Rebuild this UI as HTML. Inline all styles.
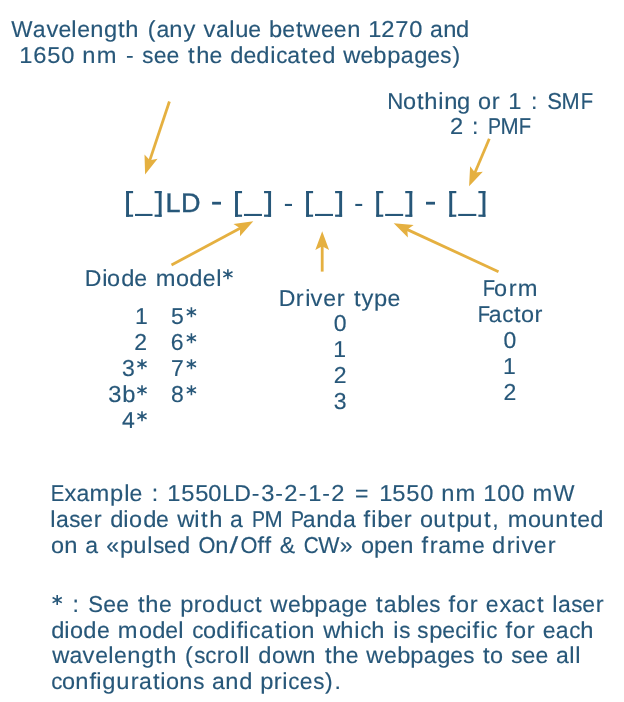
<!DOCTYPE html>
<html><head><meta charset="utf-8"><style>
html,body{margin:0;padding:0;background:#fff;width:624px;height:702px;overflow:hidden}
.t{position:absolute;white-space:pre;font-family:"Liberation Sans",sans-serif;text-rendering:geometricPrecision;line-height:30px;color:#275779;transform-origin:0 0;-webkit-text-stroke:0.15px #275779}
.a{color:transparent;-webkit-text-stroke:0 transparent}
.c{display:inline-block;text-align:center}
#wrap{position:absolute;left:0;top:0;width:624px;height:702px;will-change:transform}
</style></head><body><div id="wrap">
<svg width="624" height="702" style="position:absolute;left:0;top:0"><line x1="169.40" y1="101.50" x2="149.69" y2="160.64" stroke="#e5b040" stroke-width="2.8"/><polygon points="145.10,174.40 144.50,154.38 149.84,160.17 157.59,158.75" fill="#e5b040"/><line x1="489.30" y1="138.80" x2="474.77" y2="172.96" stroke="#e5b040" stroke-width="2.8"/><polygon points="469.10,186.30 470.11,166.30 474.97,172.50 482.81,171.70" fill="#e5b040"/><line x1="171.50" y1="265.00" x2="240.52" y2="228.04" stroke="#e5b040" stroke-width="2.8"/><polygon points="253.30,221.20 239.98,236.16 240.08,228.28 233.47,223.99" fill="#e5b040"/><line x1="322.20" y1="271.60" x2="322.20" y2="245.80" stroke="#e5b040" stroke-width="2.8"/><polygon points="322.20,231.30 329.10,250.10 322.20,246.30 315.30,250.10" fill="#e5b040"/><line x1="498.50" y1="271.70" x2="406.86" y2="229.38" stroke="#e5b040" stroke-width="2.8"/><polygon points="393.70,223.30 413.66,224.92 407.32,229.59 407.87,237.45" fill="#e5b040"/><rect x="126.10" y="191.00" width="2.90" height="25.80" fill="#275779"/><rect x="126.10" y="191.00" width="7.00" height="2.20" fill="#275779"/><rect x="126.10" y="214.60" width="7.00" height="2.20" fill="#275779"/><rect x="135.00" y="213.90" width="17.50" height="2.10" fill="#275779"/><rect x="158.70" y="191.00" width="2.90" height="25.80" fill="#275779"/><rect x="154.60" y="191.00" width="7.00" height="2.20" fill="#275779"/><rect x="154.60" y="214.60" width="7.00" height="2.20" fill="#275779"/><rect x="235.05" y="191.00" width="2.90" height="25.80" fill="#275779"/><rect x="235.05" y="191.00" width="7.00" height="2.20" fill="#275779"/><rect x="235.05" y="214.60" width="7.00" height="2.20" fill="#275779"/><rect x="243.95" y="213.90" width="18.00" height="2.10" fill="#275779"/><rect x="268.15" y="191.00" width="2.90" height="25.80" fill="#275779"/><rect x="264.05" y="191.00" width="7.00" height="2.20" fill="#275779"/><rect x="264.05" y="214.60" width="7.00" height="2.20" fill="#275779"/><rect x="306.10" y="191.00" width="2.90" height="25.80" fill="#275779"/><rect x="306.10" y="191.00" width="7.00" height="2.20" fill="#275779"/><rect x="306.10" y="214.60" width="7.00" height="2.20" fill="#275779"/><rect x="315.00" y="213.90" width="18.00" height="2.10" fill="#275779"/><rect x="339.20" y="191.00" width="2.90" height="25.80" fill="#275779"/><rect x="335.10" y="191.00" width="7.00" height="2.20" fill="#275779"/><rect x="335.10" y="214.60" width="7.00" height="2.20" fill="#275779"/><rect x="376.25" y="191.00" width="2.90" height="25.80" fill="#275779"/><rect x="376.25" y="191.00" width="7.00" height="2.20" fill="#275779"/><rect x="376.25" y="214.60" width="7.00" height="2.20" fill="#275779"/><rect x="385.15" y="213.90" width="18.00" height="2.10" fill="#275779"/><rect x="409.35" y="191.00" width="2.90" height="25.80" fill="#275779"/><rect x="405.25" y="191.00" width="7.00" height="2.20" fill="#275779"/><rect x="405.25" y="214.60" width="7.00" height="2.20" fill="#275779"/><rect x="449.30" y="191.00" width="2.90" height="25.80" fill="#275779"/><rect x="449.30" y="191.00" width="7.00" height="2.20" fill="#275779"/><rect x="449.30" y="214.60" width="7.00" height="2.20" fill="#275779"/><rect x="458.20" y="213.90" width="18.10" height="2.10" fill="#275779"/><rect x="482.50" y="191.00" width="2.90" height="25.80" fill="#275779"/><rect x="478.40" y="191.00" width="7.00" height="2.20" fill="#275779"/><rect x="478.40" y="214.60" width="7.00" height="2.20" fill="#275779"/><path d="M191.40 307.20V317.20M186.80 309.65L196.00 314.75M186.80 314.75L196.00 309.65" stroke="#275779" stroke-width="1.6" fill="none"/><path d="M191.40 333.20V343.20M186.80 335.65L196.00 340.75M186.80 340.75L196.00 335.65" stroke="#275779" stroke-width="1.6" fill="none"/><path d="M191.40 359.20V369.20M186.80 361.65L196.00 366.75M186.80 366.75L196.00 361.65" stroke="#275779" stroke-width="1.6" fill="none"/><path d="M191.40 385.20V395.20M186.80 387.65L196.00 392.75M186.80 392.75L196.00 387.65" stroke="#275779" stroke-width="1.6" fill="none"/><path d="M142.00 359.20V369.20M137.40 361.65L146.60 366.75M137.40 366.75L146.60 361.65" stroke="#275779" stroke-width="1.6" fill="none"/><path d="M142.00 385.30V395.30M137.40 387.75L146.60 392.85M137.40 392.85L146.60 387.75" stroke="#275779" stroke-width="1.6" fill="none"/><path d="M142.00 411.20V421.20M137.40 413.65L146.60 418.75M137.40 418.75L146.60 413.65" stroke="#275779" stroke-width="1.6" fill="none"/><path d="M227.90 269.30V279.30M223.30 271.75L232.50 276.85M223.30 276.85L232.50 271.75" stroke="#275779" stroke-width="1.6" fill="none"/><path d="M57.20 595.10V605.10M52.60 597.55L61.80 602.65M52.60 602.65L61.80 597.55" stroke="#275779" stroke-width="1.6" fill="none"/><rect x="212.10" y="201.80" width="8.90" height="2.80" fill="#275779"/><rect x="284.90" y="203.90" width="7.10" height="2.10" fill="#275779"/><rect x="355.30" y="203.90" width="6.90" height="2.10" fill="#275779"/><rect x="426.00" y="201.80" width="9.00" height="2.80" fill="#275779"/></svg>
<div class="t" style="left:11.49px;top:14.00px;font-size:23px;transform:scaleX(1.0)"><span class="c" style="width:21.283px;transform:scaleX(0.979)">W</span><span class="c" style="width:12.917px">a</span><span class="c" style="width:12.738px;transform:scaleX(1.030)">v</span><span class="c" style="width:12.822px">e</span><span class="c" style="width:5.907px;transform:scaleX(1.030)">l</span><span class="c" style="width:12.822px">e</span><span class="c" style="width:13.621px;transform:scaleX(1.030)">n</span><span class="c" style="width:13.411px;transform:scaleX(1.030)">g</span><span class="c" style="width:8.482px;transform:scaleX(1.030)">t</span><span class="c" style="width:13.621px;transform:scaleX(1.030)">h</span><span class="c" style="width:7.567px"> </span><span class="c" style="width:9.795px">(</span><span class="c" style="width:12.917px">a</span><span class="c" style="width:13.621px;transform:scaleX(1.030)">n</span><span class="c" style="width:12.738px;transform:scaleX(1.030)">y</span><span class="c" style="width:7.567px"> </span><span class="c" style="width:12.738px;transform:scaleX(1.030)">v</span><span class="c" style="width:12.917px">a</span><span class="c" style="width:5.907px;transform:scaleX(1.030)">l</span><span class="c" style="width:13.621px;transform:scaleX(1.030)">u</span><span class="c" style="width:12.822px">e</span><span class="c" style="width:7.567px"> </span><span class="c" style="width:13.411px;transform:scaleX(1.030)">b</span><span class="c" style="width:12.822px">e</span><span class="c" style="width:8.482px;transform:scaleX(1.030)">t</span><span class="c" style="width:17.499px;transform:scaleX(1.030)">w</span><span class="c" style="width:12.822px">e</span><span class="c" style="width:12.822px">e</span><span class="c" style="width:13.621px;transform:scaleX(1.030)">n</span><span class="c" style="width:7.567px"> </span><span class="c" style="width:13.684px;transform:scaleX(1.030)">1</span><span class="c" style="width:13.684px;transform:scaleX(1.030)">2</span><span class="c" style="width:13.684px;transform:scaleX(1.030)">7</span><span class="c" style="width:13.684px;transform:scaleX(1.030)">0</span><span class="c" style="width:7.567px"> </span><span class="c" style="width:12.917px">a</span><span class="c" style="width:13.621px;transform:scaleX(1.030)">n</span><span class="c" style="width:13.411px;transform:scaleX(1.030)">d</span></div>
<div class="t" style="left:19.43px;top:40.00px;font-size:23px;transform:scaleX(1.0)"><span class="c" style="width:13.813px;transform:scaleX(1.030)">1</span><span class="c" style="width:13.813px;transform:scaleX(1.030)">6</span><span class="c" style="width:13.813px;transform:scaleX(1.030)">5</span><span class="c" style="width:13.813px;transform:scaleX(1.030)">0</span><span class="c" style="width:7.638px"> </span><span class="c" style="width:13.749px;transform:scaleX(1.030)">n</span><span class="c" style="width:21.133px;transform:scaleX(1.030)">m</span><span class="c" style="width:7.638px"> </span><span class="c" style="width:9.888px">-</span><span class="c" style="width:7.638px"> </span><span class="c" style="width:11.320px;transform:scaleX(0.974)">s</span><span class="c" style="width:12.943px">e</span><span class="c" style="width:12.943px">e</span><span class="c" style="width:7.638px"> </span><span class="c" style="width:8.561px;transform:scaleX(1.030)">t</span><span class="c" style="width:13.749px;transform:scaleX(1.030)">h</span><span class="c" style="width:12.943px">e</span><span class="c" style="width:7.638px"> </span><span class="c" style="width:13.537px;transform:scaleX(1.030)">d</span><span class="c" style="width:12.943px">e</span><span class="c" style="width:13.537px;transform:scaleX(1.030)">d</span><span class="c" style="width:5.962px;transform:scaleX(1.030)">i</span><span class="c" style="width:11.320px;transform:scaleX(0.974)">c</span><span class="c" style="width:13.038px">a</span><span class="c" style="width:8.561px;transform:scaleX(1.030)">t</span><span class="c" style="width:12.943px">e</span><span class="c" style="width:13.537px;transform:scaleX(1.030)">d</span><span class="c" style="width:7.638px"> </span><span class="c" style="width:17.664px;transform:scaleX(1.030)">w</span><span class="c" style="width:12.943px">e</span><span class="c" style="width:13.537px;transform:scaleX(1.030)">b</span><span class="c" style="width:13.537px;transform:scaleX(1.030)">p</span><span class="c" style="width:13.038px">a</span><span class="c" style="width:13.537px;transform:scaleX(1.030)">g</span><span class="c" style="width:12.943px">e</span><span class="c" style="width:11.320px;transform:scaleX(0.974)">s</span><span class="c" style="width:9.888px">)</span></div>
<div class="t" style="left:386.70px;top:85.70px;font-size:23px;transform:scaleX(1.0)"><span class="c" style="width:16.091px;transform:scaleX(0.968)">N</span><span class="c" style="width:13.056px;transform:scaleX(1.020)">o</span><span class="c" style="width:8.476px;transform:scaleX(1.030)">t</span><span class="c" style="width:13.613px;transform:scaleX(1.030)">h</span><span class="c" style="width:5.903px;transform:scaleX(1.030)">i</span><span class="c" style="width:13.613px;transform:scaleX(1.030)">n</span><span class="c" style="width:13.403px;transform:scaleX(1.030)">g</span><span class="c" style="width:7.563px"> </span><span class="c" style="width:13.056px;transform:scaleX(1.020)">o</span><span class="c" style="width:9.180px;transform:scaleX(1.030)">r</span><span class="c" style="width:7.563px"> </span><span class="c" style="width:13.676px;transform:scaleX(1.030)">1</span><span class="c" style="width:7.563px"> </span><span class="c" style="width:9.789px">:</span><span class="c" style="width:7.563px"> </span><span class="c" style="width:14.715px;transform:scaleX(0.959)">S</span><span class="c" style="width:18.171px;transform:scaleX(0.948)">M</span><span class="c" style="width:12.373px;transform:scaleX(0.880)">F</span></div>
<div class="t" style="left:449.66px;top:111.40px;font-size:23px;transform:scaleX(1.0)"><span class="c" style="width:13.352px;transform:scaleX(1.030)">2</span><span class="c" style="width:7.383px"> </span><span class="c" style="width:9.557px">:</span><span class="c" style="width:7.383px"> </span><span class="c" style="width:12.665px;transform:scaleX(0.850)">P</span><span class="c" style="width:17.741px;transform:scaleX(0.948)">M</span><span class="c" style="width:12.080px;transform:scaleX(0.880)">F</span></div>
<div class="t" style="left:165.40px;top:187.60px;font-size:27px;letter-spacing:0.600px;-webkit-text-stroke:0.4px #275779">LD</div>
<div class="t" style="left:84.81px;top:262.80px;font-size:23px;transform:scaleX(1.0)"><span class="c" style="width:16.729px">D</span><span class="c" style="width:5.962px;transform:scaleX(1.030)">i</span><span class="c" style="width:13.186px;transform:scaleX(1.020)">o</span><span class="c" style="width:13.536px;transform:scaleX(1.030)">d</span><span class="c" style="width:12.942px">e</span><span class="c" style="width:7.638px"> </span><span class="c" style="width:21.131px;transform:scaleX(1.030)">m</span><span class="c" style="width:13.186px;transform:scaleX(1.020)">o</span><span class="c" style="width:13.536px;transform:scaleX(1.030)">d</span><span class="c" style="width:12.942px">e</span><span class="c" style="width:5.962px;transform:scaleX(1.030)">l</span></div>
<div class="t" style="left:135.00px;top:301.00px;font-size:23px;letter-spacing:0.000px">1</div>
<div class="t" style="left:134.25px;top:327.00px;font-size:23px;letter-spacing:0.000px">2</div>
<div class="t" style="left:122.00px;top:353.00px;font-size:23px;letter-spacing:0.000px">3</div>
<div class="t" style="left:108.05px;top:379.00px;font-size:23px;transform:scaleX(1.0)"><span class="c" style="width:13.769px;transform:scaleX(1.030)">3</span><span class="c" style="width:13.494px;transform:scaleX(1.030)">b</span></div>
<div class="t" style="left:121.90px;top:405.00px;font-size:23px;letter-spacing:0.000px">4</div>
<div class="t" style="left:171.00px;top:301.00px;font-size:23px;letter-spacing:0.000px">5</div>
<div class="t" style="left:170.65px;top:327.00px;font-size:23px;letter-spacing:0.000px">6</div>
<div class="t" style="left:171.00px;top:353.00px;font-size:23px;letter-spacing:0.000px">7</div>
<div class="t" style="left:170.95px;top:379.00px;font-size:23px;letter-spacing:0.000px">8</div>
<div class="t" style="left:278.78px;top:282.60px;font-size:23px;transform:scaleX(1.0)"><span class="c" style="width:16.602px">D</span><span class="c" style="width:9.201px;transform:scaleX(1.030)">r</span><span class="c" style="width:5.917px;transform:scaleX(1.030)">i</span><span class="c" style="width:12.759px;transform:scaleX(1.030)">v</span><span class="c" style="width:12.844px">e</span><span class="c" style="width:9.201px;transform:scaleX(1.030)">r</span><span class="c" style="width:7.580px"> </span><span class="c" style="width:8.496px;transform:scaleX(1.030)">t</span><span class="c" style="width:12.759px;transform:scaleX(1.030)">y</span><span class="c" style="width:13.433px;transform:scaleX(1.030)">p</span><span class="c" style="width:12.844px">e</span></div>
<div class="t" style="left:333.85px;top:308.00px;font-size:23px;letter-spacing:0.000px">0</div>
<div class="t" style="left:333.25px;top:334.00px;font-size:23px;letter-spacing:0.000px">1</div>
<div class="t" style="left:333.85px;top:360.00px;font-size:23px;letter-spacing:0.000px">2</div>
<div class="t" style="left:333.85px;top:386.00px;font-size:23px;letter-spacing:0.000px">3</div>
<div class="t" style="left:481.82px;top:272.50px;font-size:23px;transform:scaleX(1.0)"><span class="c" style="width:12.526px;transform:scaleX(0.880)">F</span><span class="c" style="width:13.217px;transform:scaleX(1.020)">o</span><span class="c" style="width:9.293px;transform:scaleX(1.030)">r</span><span class="c" style="width:21.181px;transform:scaleX(1.030)">m</span></div>
<div class="t" style="left:476.58px;top:298.50px;font-size:23px;transform:scaleX(1.0)"><span class="c" style="width:12.213px;transform:scaleX(0.880)">F</span><span class="c" style="width:12.742px">a</span><span class="c" style="width:11.062px;transform:scaleX(0.974)">c</span><span class="c" style="width:8.367px;transform:scaleX(1.030)">t</span><span class="c" style="width:12.887px;transform:scaleX(1.020)">o</span><span class="c" style="width:9.061px;transform:scaleX(1.030)">r</span></div>
<div class="t" style="left:503.55px;top:324.50px;font-size:23px;letter-spacing:0.000px">0</div>
<div class="t" style="left:502.95px;top:350.50px;font-size:23px;letter-spacing:0.000px">1</div>
<div class="t" style="left:503.55px;top:376.50px;font-size:23px;letter-spacing:0.000px">2</div>
<div class="t" style="left:49.98px;top:478.40px;font-size:23px;transform:scaleX(1.0)"><span class="c" style="width:13.619px;transform:scaleX(0.886)">E</span><span class="c" style="width:12.756px;transform:scaleX(1.030)">x</span><span class="c" style="width:12.935px">a</span><span class="c" style="width:20.966px;transform:scaleX(1.030)">m</span><span class="c" style="width:13.430px;transform:scaleX(1.030)">p</span><span class="c" style="width:5.915px;transform:scaleX(1.030)">l</span><span class="c" style="width:12.841px">e</span><span class="c" style="width:7.578px"> </span><span class="c" style="width:9.809px">:</span><span class="c" style="width:7.578px"> </span><span class="c" style="width:13.704px;transform:scaleX(1.030)">1</span><span class="c" style="width:13.704px;transform:scaleX(1.030)">5</span><span class="c" style="width:13.704px;transform:scaleX(1.030)">5</span><span class="c" style="width:13.704px;transform:scaleX(1.030)">0</span><span class="c" style="width:12.051px;transform:scaleX(0.940)">L</span><span class="c" style="width:16.598px">D</span><span class="c" style="width:9.809px">-</span><span class="c" style="width:13.704px;transform:scaleX(1.030)">3</span><span class="c" style="width:9.809px">-</span><span class="c" style="width:13.704px;transform:scaleX(1.030)">2</span><span class="c" style="width:9.809px">-</span><span class="c" style="width:13.704px;transform:scaleX(1.030)">1</span><span class="c" style="width:9.809px">-</span><span class="c" style="width:13.704px;transform:scaleX(1.030)">2</span><span class="c" style="width:7.578px"> </span><span class="c" style="width:18.861px">=</span><span class="c" style="width:7.578px"> </span><span class="c" style="width:13.704px;transform:scaleX(1.030)">1</span><span class="c" style="width:13.704px;transform:scaleX(1.030)">5</span><span class="c" style="width:13.704px;transform:scaleX(1.030)">5</span><span class="c" style="width:13.704px;transform:scaleX(1.030)">0</span><span class="c" style="width:7.578px"> </span><span class="c" style="width:13.640px;transform:scaleX(1.030)">n</span><span class="c" style="width:20.966px;transform:scaleX(1.030)">m</span><span class="c" style="width:7.578px"> </span><span class="c" style="width:13.704px;transform:scaleX(1.030)">1</span><span class="c" style="width:13.704px;transform:scaleX(1.030)">0</span><span class="c" style="width:13.704px;transform:scaleX(1.030)">0</span><span class="c" style="width:7.578px"> </span><span class="c" style="width:20.966px;transform:scaleX(1.030)">m</span><span class="c" style="width:21.313px;transform:scaleX(0.979)">W</span></div>
<div class="t" style="left:49.98px;top:503.60px;font-size:23px;transform:scaleX(1.0)"><span class="c" style="width:5.949px;transform:scaleX(1.030)">l</span><span class="c" style="width:13.010px">a</span><span class="c" style="width:11.295px;transform:scaleX(0.974)">s</span><span class="c" style="width:12.914px">e</span><span class="c" style="width:9.252px;transform:scaleX(1.030)">r</span><span class="c" style="width:7.622px"> </span><span class="c" style="width:13.507px;transform:scaleX(1.030)">d</span><span class="c" style="width:5.949px;transform:scaleX(1.030)">i</span><span class="c" style="width:13.158px;transform:scaleX(1.020)">o</span><span class="c" style="width:13.507px;transform:scaleX(1.030)">d</span><span class="c" style="width:12.914px">e</span><span class="c" style="width:7.622px"> </span><span class="c" style="width:17.625px;transform:scaleX(1.030)">w</span><span class="c" style="width:5.949px;transform:scaleX(1.030)">i</span><span class="c" style="width:8.543px;transform:scaleX(1.030)">t</span><span class="c" style="width:13.719px;transform:scaleX(1.030)">h</span><span class="c" style="width:7.622px"> </span><span class="c" style="width:13.010px">a</span><span class="c" style="width:7.622px"> </span><span class="c" style="width:13.073px;transform:scaleX(0.850)">P</span><span class="c" style="width:18.313px;transform:scaleX(0.948)">M</span><span class="c" style="width:7.622px"> </span><span class="c" style="width:13.073px;transform:scaleX(0.850)">P</span><span class="c" style="width:13.010px">a</span><span class="c" style="width:13.719px;transform:scaleX(1.030)">n</span><span class="c" style="width:13.507px;transform:scaleX(1.030)">d</span><span class="c" style="width:13.010px">a</span><span class="c" style="width:7.622px"> </span><span class="c" style="width:7.622px;transform:scaleX(1.030)">f</span><span class="c" style="width:5.949px;transform:scaleX(1.030)">i</span><span class="c" style="width:13.507px;transform:scaleX(1.030)">b</span><span class="c" style="width:12.914px">e</span><span class="c" style="width:9.252px;transform:scaleX(1.030)">r</span><span class="c" style="width:7.622px"> </span><span class="c" style="width:13.158px;transform:scaleX(1.020)">o</span><span class="c" style="width:13.719px;transform:scaleX(1.030)">u</span><span class="c" style="width:8.543px;transform:scaleX(1.030)">t</span><span class="c" style="width:13.507px;transform:scaleX(1.030)">p</span><span class="c" style="width:13.719px;transform:scaleX(1.030)">u</span><span class="c" style="width:8.543px;transform:scaleX(1.030)">t</span><span class="c" style="width:7.886px">,</span><span class="c" style="width:7.622px"> </span><span class="c" style="width:21.086px;transform:scaleX(1.030)">m</span><span class="c" style="width:13.158px;transform:scaleX(1.020)">o</span><span class="c" style="width:13.719px;transform:scaleX(1.030)">u</span><span class="c" style="width:13.719px;transform:scaleX(1.030)">n</span><span class="c" style="width:8.543px;transform:scaleX(1.030)">t</span><span class="c" style="width:12.914px">e</span><span class="c" style="width:13.507px;transform:scaleX(1.030)">d</span></div>
<div class="t" style="left:50.98px;top:529.70px;font-size:23px;transform:scaleX(1.0)"><span class="c" style="width:13.091px;transform:scaleX(1.020)">o</span><span class="c" style="width:13.650px;transform:scaleX(1.030)">n</span><span class="c" style="width:7.583px"> </span><span class="c" style="width:12.944px">a</span><span class="c" style="width:7.583px"> </span><span class="c" style="width:13.892px">«</span><span class="c" style="width:13.439px;transform:scaleX(1.030)">p</span><span class="c" style="width:13.650px;transform:scaleX(1.030)">u</span><span class="c" style="width:5.919px;transform:scaleX(1.030)">l</span><span class="c" style="width:11.238px;transform:scaleX(0.974)">s</span><span class="c" style="width:12.849px">e</span><span class="c" style="width:13.439px;transform:scaleX(1.030)">d</span><span class="c" style="width:7.583px"> </span><span class="c" style="width:16.978px;transform:scaleX(0.946)">O</span><span class="c" style="width:13.650px;transform:scaleX(1.030)">n</span><span class="c" style="width:11.585px;transform:scaleX(1.35)">/</span><span class="c" style="width:16.978px;transform:scaleX(0.946)">O</span><span class="c" style="width:7.583px;transform:scaleX(1.030)">f</span><span class="c" style="width:7.583px;transform:scaleX(1.030)">f</span><span class="c" style="width:7.583px"> </span><span class="c" style="width:15.661px">&amp;</span><span class="c" style="width:7.583px"> </span><span class="c" style="width:15.061px;transform:scaleX(0.904)">C</span><span class="c" style="width:21.328px;transform:scaleX(0.979)">W</span><span class="c" style="width:13.892px">»</span><span class="c" style="width:7.583px"> </span><span class="c" style="width:13.091px;transform:scaleX(1.020)">o</span><span class="c" style="width:13.439px;transform:scaleX(1.030)">p</span><span class="c" style="width:12.849px">e</span><span class="c" style="width:13.650px;transform:scaleX(1.030)">n</span><span class="c" style="width:7.583px"> </span><span class="c" style="width:7.583px;transform:scaleX(1.030)">f</span><span class="c" style="width:9.205px;transform:scaleX(1.030)">r</span><span class="c" style="width:12.944px">a</span><span class="c" style="width:20.980px;transform:scaleX(1.030)">m</span><span class="c" style="width:12.849px">e</span><span class="c" style="width:7.583px"> </span><span class="c" style="width:13.439px;transform:scaleX(1.030)">d</span><span class="c" style="width:9.205px;transform:scaleX(1.030)">r</span><span class="c" style="width:5.919px;transform:scaleX(1.030)">i</span><span class="c" style="width:12.765px;transform:scaleX(1.030)">v</span><span class="c" style="width:12.849px">e</span><span class="c" style="width:9.205px;transform:scaleX(1.030)">r</span></div>
<div class="t" style="left:70.85px;top:588.60px;font-size:23px;transform:scaleX(1.0)"><span class="c" style="width:9.884px">:</span><span class="c" style="width:7.636px"> </span><span class="c" style="width:14.858px;transform:scaleX(0.959)">S</span><span class="c" style="width:12.938px">e</span><span class="c" style="width:12.938px">e</span><span class="c" style="width:7.636px"> </span><span class="c" style="width:8.558px;transform:scaleX(1.030)">t</span><span class="c" style="width:13.744px;transform:scaleX(1.030)">h</span><span class="c" style="width:12.938px">e</span><span class="c" style="width:7.636px"> </span><span class="c" style="width:13.532px;transform:scaleX(1.030)">p</span><span class="c" style="width:9.269px;transform:scaleX(1.030)">r</span><span class="c" style="width:13.182px;transform:scaleX(1.020)">o</span><span class="c" style="width:13.532px;transform:scaleX(1.030)">d</span><span class="c" style="width:13.744px;transform:scaleX(1.030)">u</span><span class="c" style="width:11.316px;transform:scaleX(0.974)">c</span><span class="c" style="width:8.558px;transform:scaleX(1.030)">t</span><span class="c" style="width:7.636px"> </span><span class="c" style="width:17.658px;transform:scaleX(1.030)">w</span><span class="c" style="width:12.938px">e</span><span class="c" style="width:13.532px;transform:scaleX(1.030)">b</span><span class="c" style="width:13.532px;transform:scaleX(1.030)">p</span><span class="c" style="width:13.034px">a</span><span class="c" style="width:13.532px;transform:scaleX(1.030)">g</span><span class="c" style="width:12.938px">e</span><span class="c" style="width:7.636px"> </span><span class="c" style="width:8.558px;transform:scaleX(1.030)">t</span><span class="c" style="width:13.034px">a</span><span class="c" style="width:13.532px;transform:scaleX(1.030)">b</span><span class="c" style="width:5.960px;transform:scaleX(1.030)">l</span><span class="c" style="width:12.938px">e</span><span class="c" style="width:11.316px;transform:scaleX(0.974)">s</span><span class="c" style="width:7.636px"> </span><span class="c" style="width:7.636px;transform:scaleX(1.030)">f</span><span class="c" style="width:13.182px;transform:scaleX(1.020)">o</span><span class="c" style="width:9.269px;transform:scaleX(1.030)">r</span><span class="c" style="width:7.636px"> </span><span class="c" style="width:12.938px">e</span><span class="c" style="width:12.854px;transform:scaleX(1.030)">x</span><span class="c" style="width:13.034px">a</span><span class="c" style="width:11.316px;transform:scaleX(0.974)">c</span><span class="c" style="width:8.558px;transform:scaleX(1.030)">t</span><span class="c" style="width:7.636px"> </span><span class="c" style="width:5.960px;transform:scaleX(1.030)">l</span><span class="c" style="width:13.034px">a</span><span class="c" style="width:11.316px;transform:scaleX(0.974)">s</span><span class="c" style="width:12.938px">e</span><span class="c" style="width:9.269px;transform:scaleX(1.030)">r</span></div>
<div class="t" style="left:50.73px;top:614.50px;font-size:23px;transform:scaleX(1.0)"><span class="c" style="width:13.528px;transform:scaleX(1.030)">d</span><span class="c" style="width:5.958px;transform:scaleX(1.030)">i</span><span class="c" style="width:13.178px;transform:scaleX(1.020)">o</span><span class="c" style="width:13.528px;transform:scaleX(1.030)">d</span><span class="c" style="width:12.935px">e</span><span class="c" style="width:7.634px"> </span><span class="c" style="width:21.119px;transform:scaleX(1.030)">m</span><span class="c" style="width:13.178px;transform:scaleX(1.020)">o</span><span class="c" style="width:13.528px;transform:scaleX(1.030)">d</span><span class="c" style="width:12.935px">e</span><span class="c" style="width:5.958px;transform:scaleX(1.030)">l</span><span class="c" style="width:7.634px"> </span><span class="c" style="width:11.312px;transform:scaleX(0.974)">c</span><span class="c" style="width:13.178px;transform:scaleX(1.020)">o</span><span class="c" style="width:13.528px;transform:scaleX(1.030)">d</span><span class="c" style="width:5.958px;transform:scaleX(1.030)">i</span><span class="c" style="width:7.634px;transform:scaleX(1.030)">f</span><span class="c" style="width:5.958px;transform:scaleX(1.030)">i</span><span class="c" style="width:11.312px;transform:scaleX(0.974)">c</span><span class="c" style="width:13.030px">a</span><span class="c" style="width:8.556px;transform:scaleX(1.030)">t</span><span class="c" style="width:5.958px;transform:scaleX(1.030)">i</span><span class="c" style="width:13.178px;transform:scaleX(1.020)">o</span><span class="c" style="width:13.740px;transform:scaleX(1.030)">n</span><span class="c" style="width:7.634px"> </span><span class="c" style="width:17.653px;transform:scaleX(1.030)">w</span><span class="c" style="width:13.740px;transform:scaleX(1.030)">h</span><span class="c" style="width:5.958px;transform:scaleX(1.030)">i</span><span class="c" style="width:11.312px;transform:scaleX(0.974)">c</span><span class="c" style="width:13.740px;transform:scaleX(1.030)">h</span><span class="c" style="width:7.634px"> </span><span class="c" style="width:5.958px;transform:scaleX(1.030)">i</span><span class="c" style="width:11.312px;transform:scaleX(0.974)">s</span><span class="c" style="width:7.634px"> </span><span class="c" style="width:11.312px;transform:scaleX(0.974)">s</span><span class="c" style="width:13.528px;transform:scaleX(1.030)">p</span><span class="c" style="width:12.935px">e</span><span class="c" style="width:11.312px;transform:scaleX(0.974)">c</span><span class="c" style="width:5.958px;transform:scaleX(1.030)">i</span><span class="c" style="width:7.634px;transform:scaleX(1.030)">f</span><span class="c" style="width:5.958px;transform:scaleX(1.030)">i</span><span class="c" style="width:11.312px;transform:scaleX(0.974)">c</span><span class="c" style="width:7.634px"> </span><span class="c" style="width:7.634px;transform:scaleX(1.030)">f</span><span class="c" style="width:13.178px;transform:scaleX(1.020)">o</span><span class="c" style="width:9.266px;transform:scaleX(1.030)">r</span><span class="c" style="width:7.634px"> </span><span class="c" style="width:12.935px">e</span><span class="c" style="width:13.030px">a</span><span class="c" style="width:11.312px;transform:scaleX(0.974)">c</span><span class="c" style="width:13.740px;transform:scaleX(1.030)">h</span></div>
<div class="t" style="left:51.74px;top:639.90px;font-size:23px;transform:scaleX(1.0)"><span class="c" style="width:17.598px;transform:scaleX(1.030)">w</span><span class="c" style="width:12.990px">a</span><span class="c" style="width:12.810px;transform:scaleX(1.030)">v</span><span class="c" style="width:12.895px">e</span><span class="c" style="width:5.940px;transform:scaleX(1.030)">l</span><span class="c" style="width:12.895px">e</span><span class="c" style="width:13.698px;transform:scaleX(1.030)">n</span><span class="c" style="width:13.487px;transform:scaleX(1.030)">g</span><span class="c" style="width:8.530px;transform:scaleX(1.030)">t</span><span class="c" style="width:13.698px;transform:scaleX(1.030)">h</span><span class="c" style="width:7.610px"> </span><span class="c" style="width:9.851px">(</span><span class="c" style="width:11.278px;transform:scaleX(0.974)">s</span><span class="c" style="width:11.278px;transform:scaleX(0.974)">c</span><span class="c" style="width:9.238px;transform:scaleX(1.030)">r</span><span class="c" style="width:13.138px;transform:scaleX(1.020)">o</span><span class="c" style="width:5.940px;transform:scaleX(1.030)">l</span><span class="c" style="width:5.940px;transform:scaleX(1.030)">l</span><span class="c" style="width:7.610px"> </span><span class="c" style="width:13.487px;transform:scaleX(1.030)">d</span><span class="c" style="width:13.138px;transform:scaleX(1.020)">o</span><span class="c" style="width:17.598px;transform:scaleX(1.030)">w</span><span class="c" style="width:13.698px;transform:scaleX(1.030)">n</span><span class="c" style="width:7.610px"> </span><span class="c" style="width:8.530px;transform:scaleX(1.030)">t</span><span class="c" style="width:13.698px;transform:scaleX(1.030)">h</span><span class="c" style="width:12.895px">e</span><span class="c" style="width:7.610px"> </span><span class="c" style="width:17.598px;transform:scaleX(1.030)">w</span><span class="c" style="width:12.895px">e</span><span class="c" style="width:13.487px;transform:scaleX(1.030)">b</span><span class="c" style="width:13.487px;transform:scaleX(1.030)">p</span><span class="c" style="width:12.990px">a</span><span class="c" style="width:13.487px;transform:scaleX(1.030)">g</span><span class="c" style="width:12.895px">e</span><span class="c" style="width:11.278px;transform:scaleX(0.974)">s</span><span class="c" style="width:7.610px"> </span><span class="c" style="width:8.530px;transform:scaleX(1.030)">t</span><span class="c" style="width:13.138px;transform:scaleX(1.020)">o</span><span class="c" style="width:7.610px"> </span><span class="c" style="width:11.278px;transform:scaleX(0.974)">s</span><span class="c" style="width:12.895px">e</span><span class="c" style="width:12.895px">e</span><span class="c" style="width:7.610px"> </span><span class="c" style="width:12.990px">a</span><span class="c" style="width:5.940px;transform:scaleX(1.030)">l</span><span class="c" style="width:5.940px;transform:scaleX(1.030)">l</span></div>
<div class="t" style="left:50.76px;top:666.10px;font-size:23px;transform:scaleX(1.0)"><span class="c" style="width:11.282px;transform:scaleX(0.974)">c</span><span class="c" style="width:13.142px;transform:scaleX(1.020)">o</span><span class="c" style="width:13.703px;transform:scaleX(1.030)">n</span><span class="c" style="width:7.613px;transform:scaleX(1.030)">f</span><span class="c" style="width:5.942px;transform:scaleX(1.030)">i</span><span class="c" style="width:13.491px;transform:scaleX(1.030)">g</span><span class="c" style="width:13.703px;transform:scaleX(1.030)">u</span><span class="c" style="width:9.241px;transform:scaleX(1.030)">r</span><span class="c" style="width:12.994px">a</span><span class="c" style="width:8.533px;transform:scaleX(1.030)">t</span><span class="c" style="width:5.942px;transform:scaleX(1.030)">i</span><span class="c" style="width:13.142px;transform:scaleX(1.020)">o</span><span class="c" style="width:13.703px;transform:scaleX(1.030)">n</span><span class="c" style="width:11.282px;transform:scaleX(0.974)">s</span><span class="c" style="width:7.613px"> </span><span class="c" style="width:12.994px">a</span><span class="c" style="width:13.703px;transform:scaleX(1.030)">n</span><span class="c" style="width:13.491px;transform:scaleX(1.030)">d</span><span class="c" style="width:7.613px"> </span><span class="c" style="width:13.491px;transform:scaleX(1.030)">p</span><span class="c" style="width:9.241px;transform:scaleX(1.030)">r</span><span class="c" style="width:5.942px;transform:scaleX(1.030)">i</span><span class="c" style="width:11.282px;transform:scaleX(0.974)">c</span><span class="c" style="width:12.899px">e</span><span class="c" style="width:11.282px;transform:scaleX(0.974)">s</span><span class="c" style="width:9.854px">)</span><span class="c" style="width:7.877px">.</span></div>
</div></body></html>
